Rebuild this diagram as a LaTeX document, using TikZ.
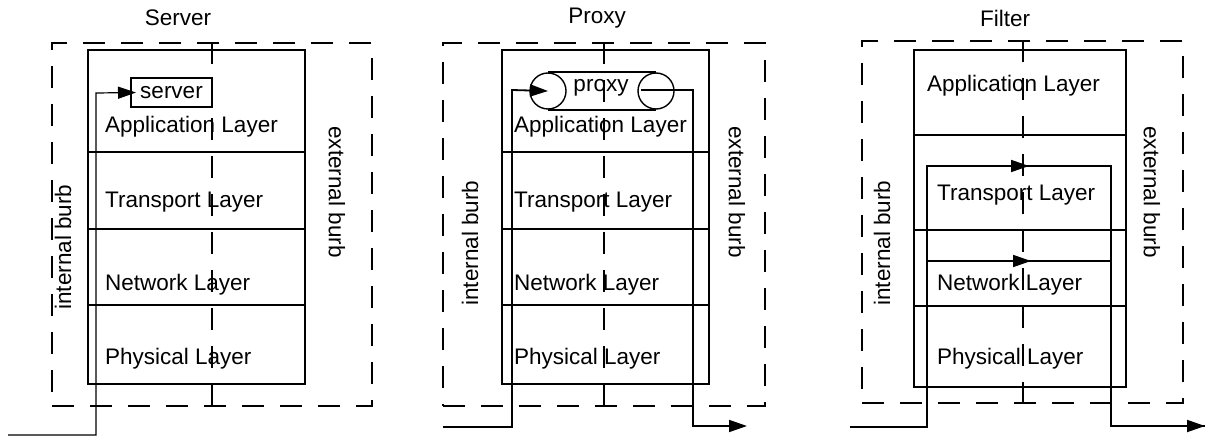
\documentclass[tikz,border=0pt]{standalone}
\usepackage{fontspec}
\setmainfont{Liberation Sans}
\usetikzlibrary{positioning,arrows.meta}

\tikzset{
  burb/.style={draw,line width=2pt,dash pattern=on 22pt off 16pt},
  stack/.style={draw,line width=2pt,inner sep=0pt},
  lbl/.style={inner sep=0pt,font=\fontsize{22.5}{27}\selectfont},
  flow/.style={line width=1.8pt,-{Triangle[length=18pt,width=12pt]}},
  wire/.style={line width=1.8pt}
}

\begin{document}
\begin{tikzpicture}[x=1pt,y=-1pt]
\useasboundingbox (0,0) rectangle (1207,438);

% Server
\node[lbl](ts) at (178,18) {Server};
\node[burb,minimum width=320pt,minimum height=363pt](os) at (212,224.5){};
\draw[burb](os.north) -- (os.south);
\node[stack,minimum width=217pt,minimum height=102pt](as) at (196.5,101){};
\node[stack,minimum width=217pt,minimum height=77pt](ps) at (196.5,190.5){};
\node[stack,minimum width=217pt,minimum height=76pt](ns) at (196.5,267){};
\node[stack,minimum width=217pt,minimum height=79pt](hs) at (196.5,344.5){};
\node[lbl,anchor=west] at (105,127) {Application Layer};
\node[lbl,anchor=west] at (105,202) {Transport Layer};
\node[lbl,anchor=west] at (105,285) {Network Layer};
\node[lbl,anchor=west] at (105,359) {Physical Layer};
\node[stack,lbl,fill=white,minimum width=81pt,minimum height=29pt](srv) at (171.5,92.5) {server};
\node[lbl,rotate=90] at (63,247) {internal burb};
\node[lbl,rotate=-90] at (337,192) {external burb};
\coordinate (is) at (8,435);
\coordinate (js) at (96,93);
\draw[flow,line width=1.2pt](is) -| (js) -- ([xshift=6pt]srv.west);

% Proxy
\node[lbl](tp) at (597,18) {Proxy};
\node[burb,minimum width=322pt,minimum height=363pt](op) at (604,224.5){};
\node[stack,minimum width=207pt,minimum height=102pt](ap) at (605.5,101){};
\node[stack,minimum width=207pt,minimum height=77pt](pp) at (605.5,190.5){};
\node[stack,minimum width=207pt,minimum height=76pt](np) at (605.5,267){};
\node[stack,minimum width=207pt,minimum height=79pt](hp) at (605.5,344.5){};
\node[lbl,anchor=west] at (514,127) {Application Layer};
\node[lbl,anchor=west] at (514,202) {Transport Layer};
\node[lbl,anchor=west] at (514,285) {Network Layer};
\node[lbl,anchor=west] at (514,359) {Physical Layer};
\fill[white](548,73) rectangle (655,109);
\draw[burb](op.north) -- (op.south);
\node[circle,draw,line width=1.4pt,fill=white,minimum size=36pt](pl) at (548,91){};
\node[circle,draw,line width=1.4pt,fill=white,minimum size=36pt](pr) at (656,91){};
\draw[wire,line width=2pt](pl.north) -- (pr.north) (pl.south) -- (pr.south);
\node[lbl] at (601,88) {proxy};
\node[lbl,rotate=90] at (470,243) {internal burb};
\node[lbl,rotate=-90] at (737,192) {external burb};
\coordinate (ip) at (443,427);
\coordinate (jp) at (512,90);
\coordinate (qp) at (641,90);
\coordinate (kp) at (693,426);
\coordinate (ep) at (747,426);
\draw[flow](ip) -| (jp) -- (pl.center);
\draw[flow](qp) -| (kp) -- (ep);

% Filter
\node[lbl](tf) at (1005,18) {Filter};
\node[burb,minimum width=321pt,minimum height=362pt](of) at (1022.5,222){};
\draw[burb](of.north) -- (of.south);
\node[stack,minimum width=212pt,minimum height=85pt](af) at (1020,92.5){};
\node[stack,minimum width=212pt,minimum height=95pt](pf) at (1020,182.5){};
\node[stack,minimum width=212pt,minimum height=76pt](nf) at (1020,268){};
\node[stack,minimum width=212pt,minimum height=81pt](hf) at (1020,346.5){};
\node[lbl,anchor=west] at (927,86) {Application Layer};
\node[lbl,anchor=west] at (937,195) {Transport Layer};
\node[lbl,anchor=west] at (937,285) {Network Layer};
\node[lbl,anchor=west] at (937,359) {Physical Layer};
\node[lbl,rotate=90] at (882,243) {internal burb};
\node[lbl,rotate=-90] at (1152,192) {external burb};
\coordinate (if) at (850,427);
\coordinate (uf) at (927,166);
\coordinate (vf) at (1111,166);
\coordinate (wf) at (927,261);
\coordinate (xf) at (1111,261);
\coordinate (kf) at (1111,426);
\coordinate (ef) at (1205,426);
\draw[wire](if) -| (uf) -- (vf) -- (kf) -- (ef);
\draw[wire](wf) -- (xf);
\draw[flow](uf) -- (1029,166);
\draw[flow](wf) -- (1031,261);
\draw[flow](kf) -- (ef);
\end{tikzpicture}
\end{document}
